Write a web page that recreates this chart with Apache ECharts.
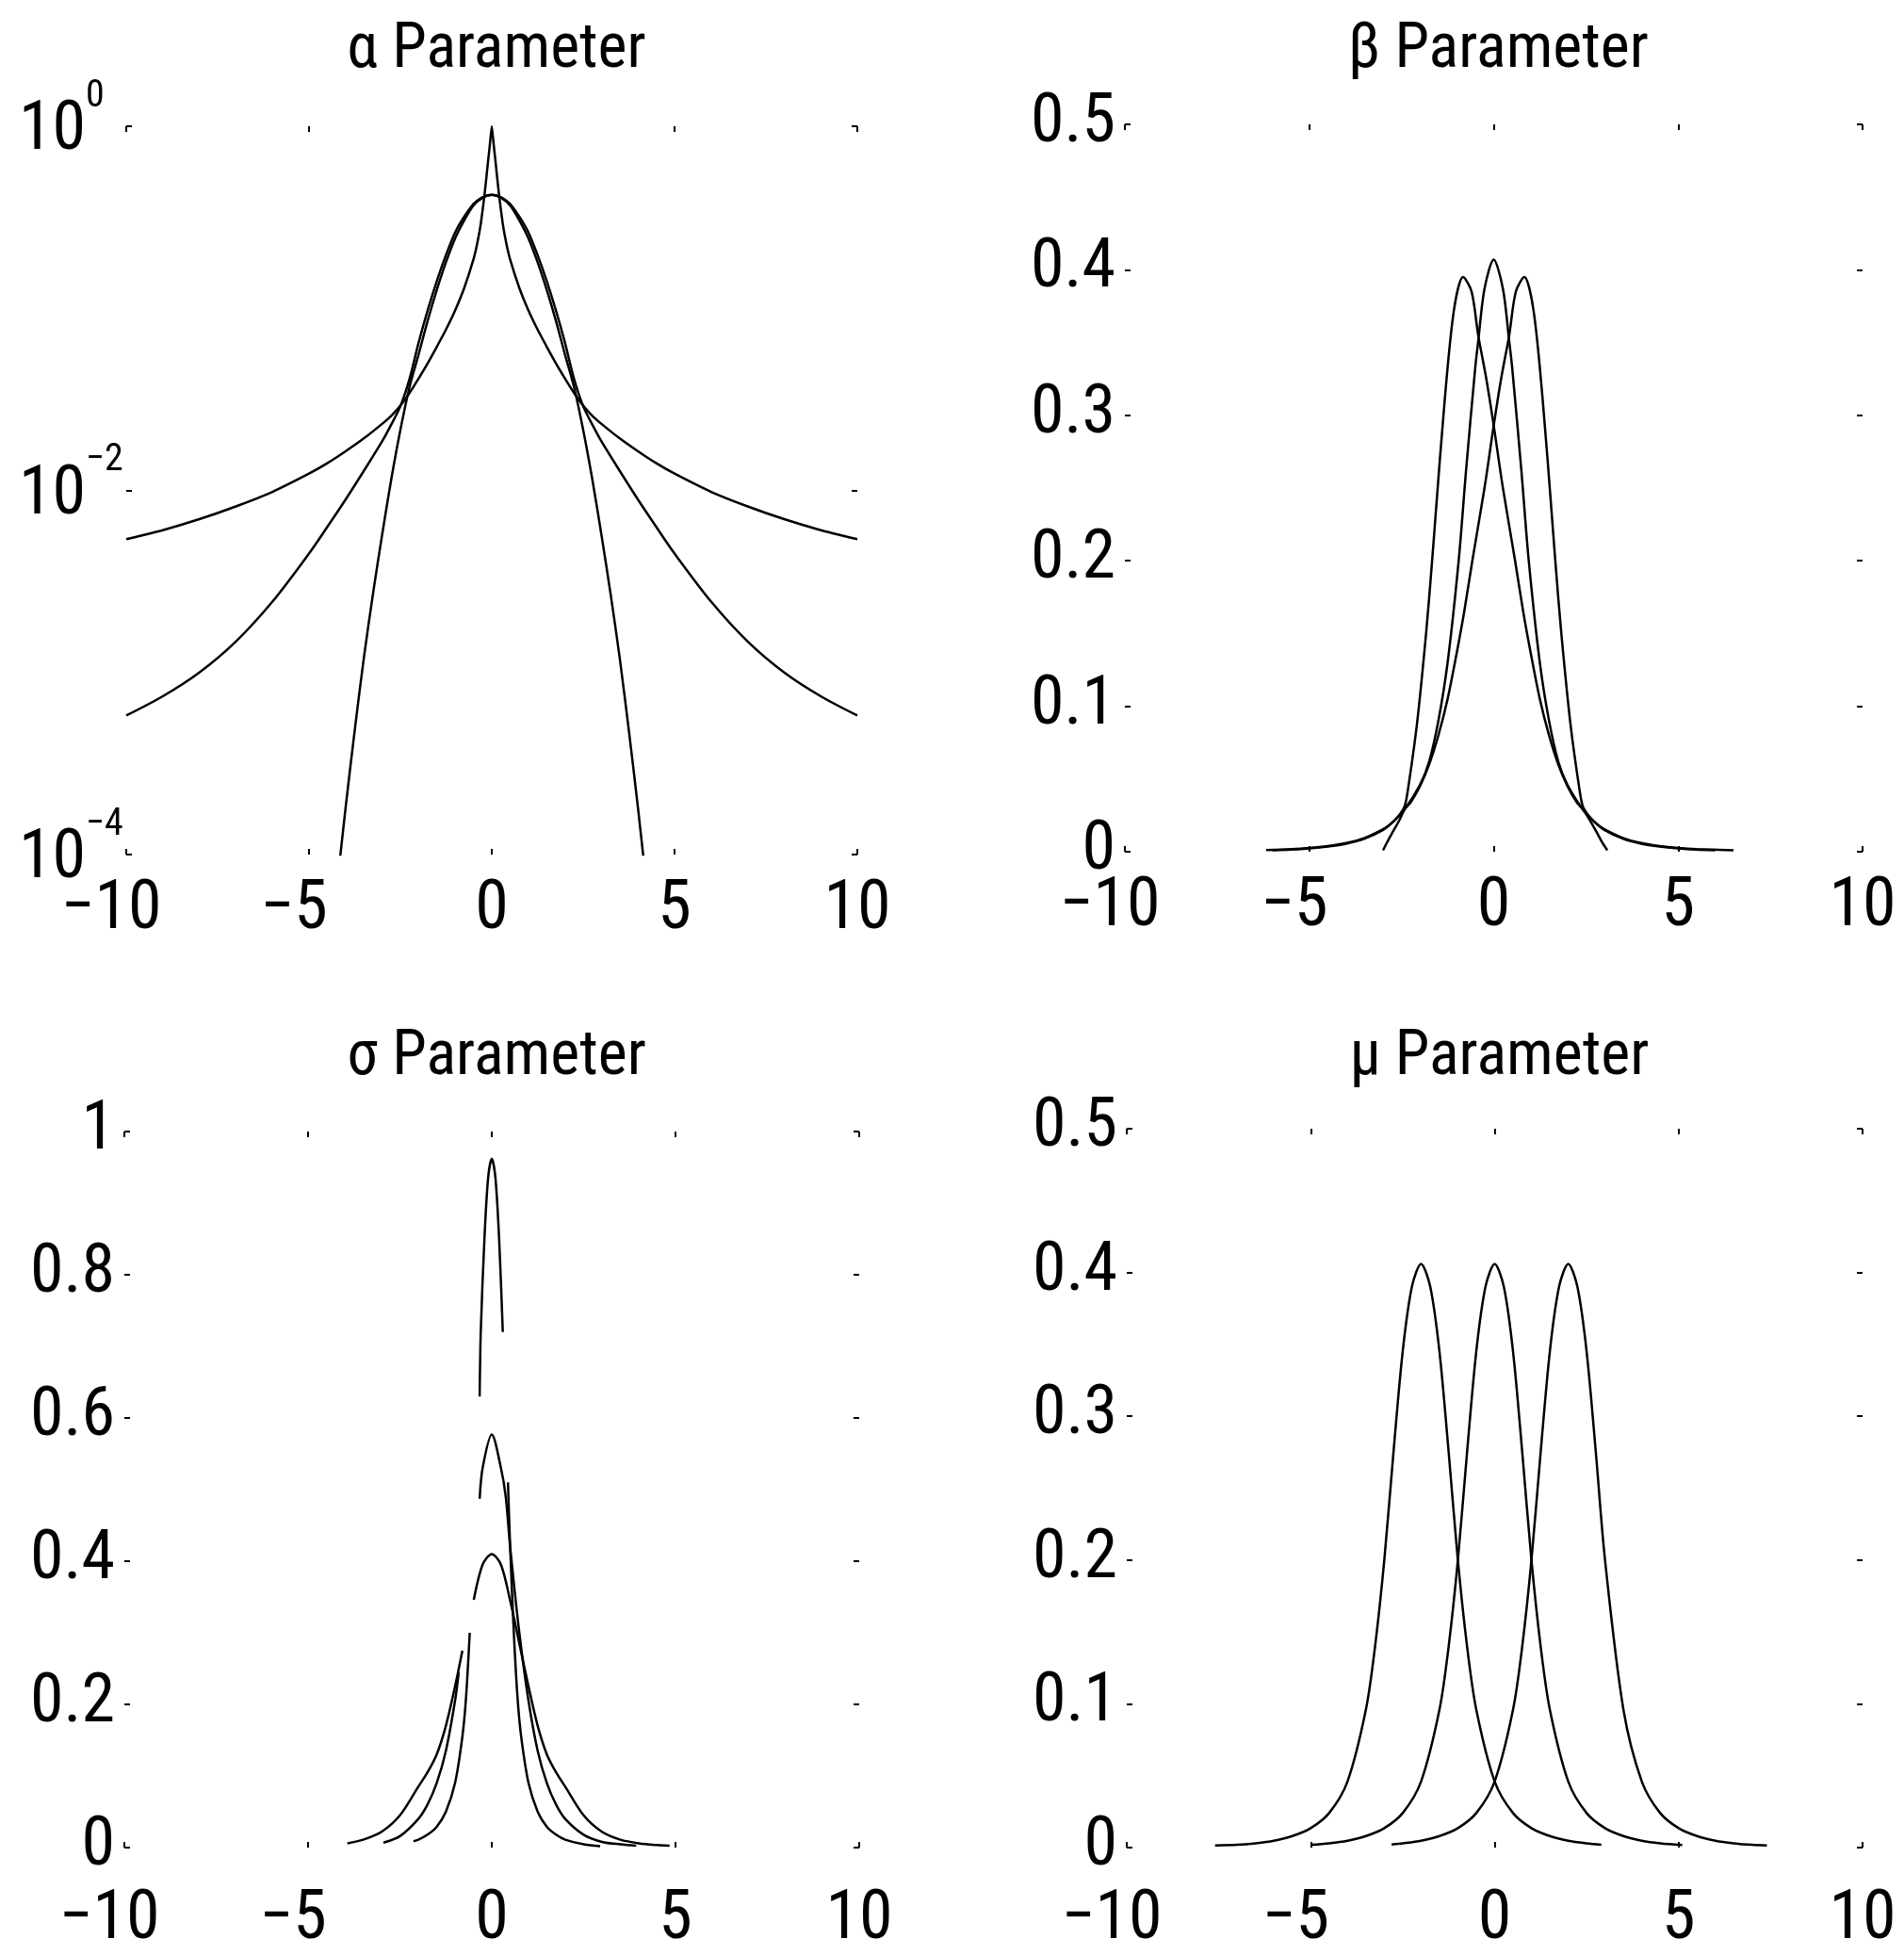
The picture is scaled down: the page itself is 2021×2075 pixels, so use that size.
<!DOCTYPE html>
<html><head><meta charset="utf-8">
<script src="https://cdn.jsdelivr.net/npm/echarts@6/dist/echarts.min.js"></script>
<style>html,body{margin:0;padding:0;background:#fff}#c{width:2021px;height:2075px}</style>
</head><body><div id="c"></div>
<script>
var FONT = "'Roboto Condensed','DejaVu Sans Condensed',sans-serif";
var WEIGHT = 'normal';
var titles = ['\u03b1 Parameter', '\u03b2 Parameter', '\u03c3 Parameter', '\u03bc Parameter'];

// ---- alpha panel (log y) ----
var alphaX = [-10,-9,-8,-7,-6,-5,-4.5,-4,-3.5,-3,-2.75,-2.5,-2.25,-2,-1.75,-1.5,-1.25,-1,-0.75,-0.5,-0.4,-0.3,-0.2,-0.1,-0.05,0,0.05,0.1,0.2,0.3,0.4,0.5,0.75,1,1.25,1.5,1.75,2,2.25,2.5,2.75,3,3.5,4,4.5,5,6,7,8,9,10];
var alphaHeavy = [0.0054,0.00605,0.00695,0.00817,0.00982,0.01236,0.0141,0.0164,0.0193,0.0232,0.0257,0.0292,0.0343,0.0412,0.050,0.0617,0.0767,0.0977,0.130,0.186,0.226,0.292,0.417,0.646,0.80,1.0,0.80,0.646,0.417,0.292,0.226,0.186,0.130,0.0977,0.0767,0.0617,0.050,0.0412,0.0343,0.0292,0.0257,0.0232,0.0193,0.0164,0.0141,0.01236,0.00982,0.00817,0.00695,0.00605,0.0054];
var alphaMid = [0.00058,0.00074,0.00100,0.00148,0.00245,0.0045,0.0063,0.0089,0.0128,0.0186,0.023,0.029,0.041,0.065,0.098,0.142,0.197,0.262,0.32,0.375,0.39,0.403,0.412,0.418,0.419,0.42,0.419,0.418,0.412,0.403,0.39,0.375,0.32,0.262,0.197,0.142,0.098,0.065,0.041,0.029,0.023,0.0186,0.0128,0.0089,0.0063,0.0045,0.00245,0.00148,0.00100,0.00074,0.00058];
var alphaLightX = [-4.5,-4.25,-4,-3.75,-3.5,-3.25,-3,-2.75,-2.5,-2.25,-2,-1.75,-1.5,-1.25,-1,-0.75,-0.5,-0.25,0,0.25,0.5,0.75,1,1.25,1.5,1.75,2,2.25,2.5,2.75,3,3.25,3.5,3.75,4,4.25,4.5];
var alphaLight = [0.00002,0.000062,0.00018,0.00048,0.0012,0.0027,0.0057,0.0115,0.0215,0.037,0.056,0.086,0.127,0.18,0.243,0.305,0.368,0.405,0.42,0.405,0.368,0.305,0.243,0.18,0.127,0.086,0.056,0.037,0.0215,0.0115,0.0057,0.0027,0.0012,0.00048,0.00018,0.000062,0.00002];

// ---- beta panel ----
var betaCX = [-6,-5.5,-5,-4.5,-4,-3.5,-3,-2.75,-2.42,-2,-1.75,-1.5,-1.25,-0.95,-0.75,-0.5,-0.42,-0.25,0,0.25,0.42,0.5,0.75,0.95,1.25,1.5,1.75,2,2.42,2.75,3,3.5,4,4.5,5,5.5,6];
var betaC = [0.001,0.0014,0.0022,0.0035,0.0055,0.009,0.015,0.02,0.029,0.046,0.062,0.09,0.13,0.2,0.262,0.333,0.351,0.387,0.407,0.387,0.351,0.333,0.262,0.2,0.13,0.09,0.062,0.046,0.029,0.02,0.015,0.009,0.0055,0.0035,0.0022,0.0014,0.001];
var betaLX = [-6.17,-5.5,-5,-4.5,-4,-3.5,-3,-2.8,-2.6,-2.42,-2.33,-2.08,-1.83,-1.67,-1.58,-1.33,-1.08,-0.83,-0.6,-0.42,-0.2,0,0.25,0.58,0.8,1,1.25,1.5,1.75,2,2.25,2.42,2.6,2.8,2.95,3.08];
var betaL = [0.0012,0.0018,0.0026,0.0039,0.006,0.0095,0.0155,0.019,0.024,0.031,0.042,0.088,0.151,0.2,0.23,0.31,0.372,0.395,0.385,0.355,0.325,0.293,0.25,0.2,0.165,0.137,0.105,0.08,0.06,0.045,0.034,0.029,0.022,0.013,0.006,0.001];
var betaRX = [-3.0,-2.9,-2.75,-2.55,-2.42,-2.25,-2,-1.75,-1.5,-1.25,-1,-0.8,-0.58,-0.25,0,0.2,0.42,0.6,0.83,1.08,1.33,1.58,1.67,1.83,2.08,2.33,2.42,2.6,2.8,3,3.5,4,4.5,5,5.5,6.5];
var betaR = [0.001,0.006,0.013,0.022,0.029,0.034,0.045,0.06,0.08,0.105,0.137,0.165,0.2,0.25,0.293,0.325,0.355,0.385,0.395,0.372,0.31,0.23,0.2,0.151,0.088,0.042,0.031,0.024,0.019,0.0155,0.0095,0.006,0.0039,0.0026,0.0018,0.001];

// ---- sigma panel (gaps where the printed curves break) ----
var sigNX = [-2.13,-2,-1.75,-1.5,-1.25,-1,-0.8,-0.7,-0.6,-0.45,-0.33,-0.3,-0.2,-0.1,0,0.1,0.2,0.3,0.37,0.44,0.5,0.6,0.7,0.8,1,1.25,1.5,1.75,2,2.5,2.95];
var sigN = [0.009,0.011,0.018,0.029,0.05,0.09,0.155,0.21,0.3,null,0.63,0.72,0.85,0.935,0.962,0.935,0.85,0.72,null,0.51,0.42,0.3,0.21,0.155,0.09,0.05,0.029,0.018,0.011,0.0045,0.002];
var sigMX = [-2.95,-2.5,-2,-1.75,-1.5,-1.25,-1,-0.9,-0.6,-0.33,-0.25,0,0.25,0.38,0.5,0.75,1,1.25,1.5,1.75,2,2.5,3,3.5,3.93];
var sigM = [0.007,0.016,0.04,0.06,0.09,0.135,0.205,0.245,null,0.487,0.53,0.577,0.53,0.49,0.42,0.30,0.205,0.135,0.09,0.06,0.04,0.018,0.008,0.0045,0.0025];
var sigWX = [-3.93,-3.5,-3,-2.5,-2,-1.75,-1.5,-1.25,-1,-0.8,-0.65,-0.49,-0.25,0,0.25,0.5,0.75,1,1.25,1.5,1.75,2,2.5,3,3.5,4,4.5,4.84];
var sigW = [0.006,0.011,0.022,0.045,0.085,0.105,0.13,0.17,0.225,0.275,null,0.346,0.395,0.41,0.395,0.345,0.285,0.225,0.17,0.13,0.105,0.085,0.045,0.022,0.011,0.006,0.0035,0.0025];

// ---- mu panel ----
var muLX = [-7.6,-7,-6.5,-6,-5.5,-5,-4.5,-4,-3.5,-3.25,-3,-2.75,-2.5,-2.25,-2,-1.75,-1.5,-1.25,-1,-0.75,-0.5,0,0.5,1,1.5,2,2.5,2.9];
var muL = [0.0015,0.0019,0.003,0.0048,0.008,0.0135,0.024,0.046,0.096,0.14,0.2,0.275,0.345,0.39,0.406,0.39,0.345,0.275,0.2,0.14,0.096,0.046,0.024,0.0135,0.008,0.0048,0.003,0.002];
var muCX = [-5,-4.5,-4,-3.5,-3,-2.5,-2,-1.5,-1.25,-1,-0.75,-0.5,-0.25,0,0.25,0.5,0.75,1,1.25,1.5,2,2.5,3,3.5,4,4.5,5.1];
var muC = [0.0019,0.003,0.0048,0.008,0.0135,0.024,0.046,0.096,0.14,0.2,0.275,0.345,0.39,0.406,0.39,0.345,0.275,0.2,0.14,0.096,0.046,0.024,0.0135,0.008,0.0048,0.003,0.0018];
var muRX = [-2.8,-2.5,-2,-1.5,-1,-0.5,0,0.5,0.75,1,1.25,1.5,1.75,2,2.25,2.5,2.75,3,3.5,4,4.5,5,5.5,6,6.5,7,7.4];
var muR = [0.0022,0.003,0.0048,0.008,0.0135,0.024,0.046,0.096,0.14,0.2,0.275,0.345,0.39,0.406,0.39,0.345,0.275,0.2,0.096,0.046,0.024,0.0135,0.008,0.0048,0.003,0.0019,0.0015];

function pairs(xs, ys) { return xs.map(function (x, i) { return [x, ys[i]]; }); }

var grids = [
  {left: 134, top: 134, width: 776, height: 773},
  {left: 1194, top: 132, width: 783, height: 772},
  {left: 132, top: 1201, width: 780, height: 766},
  {left: 1196, top: 1198, width: 781, height: 770}
];
var xLabelMargin = [24, 24, 42, 42];

function fmtX(v) { return v < 0 ? '{n|\u2212' + Math.abs(v) + '}' : '{p|' + v + '}'; }

var option = {
  backgroundColor: '#fff',
  animation: false,
  title: grids.map(function (g, i) {
    return {
      text: titles[i], left: g.left + g.width / 2, textAlign: 'center',
      top: i < 2 ? 16 : 1085,
      textStyle: {fontFamily: FONT, fontSize: 66, fontWeight: WEIGHT, color: '#000'}
    };
  }),
  grid: grids.map(function (g) { return {left: g.left, top: g.top, width: g.width, height: g.height, containLabel: false}; }),
  xAxis: [],
  yAxis: [],
  series: []
};

var tickStyle = {show: true, inside: true, length: 6, lineStyle: {color: '#000', width: 2}};
var noLine = {show: false, onZero: false};
for (var i = 0; i < 4; i++) {
  option.xAxis.push({
    type: 'value', gridIndex: i, min: -10, max: 10, interval: 5, position: 'bottom',
    axisLine: noLine, splitLine: {show: false}, axisTick: tickStyle,
    axisLabel: {margin: xLabelMargin[i], color: '#000', fontFamily: FONT, fontWeight: WEIGHT, fontSize: 72, formatter: fmtX,
      rich: {n: {fontFamily: FONT, fontWeight: WEIGHT, fontSize: 72, color: '#000', padding: [0, 32, 0, 0]},
             p: {fontFamily: FONT, fontWeight: WEIGHT, fontSize: 72, color: '#000'}}}
  });
  option.xAxis.push({
    type: 'value', gridIndex: i, min: -10, max: 10, interval: 5, position: 'top',
    axisLine: noLine, splitLine: {show: false}, axisTick: tickStyle, axisLabel: {show: false}
  });
}
option.yAxis.push({
  type: 'log', gridIndex: 0, logBase: 10, min: 1e-4, max: 1, interval: 2, position: 'left',
  axisLine: noLine, splitLine: {show: false}, axisTick: tickStyle, minorTick: {show: false},
  axisLabel: {
    margin: 114, align: 'left', color: '#000', fontFamily: FONT, fontWeight: WEIGHT,
    formatter: function (v) {
      var e = Math.round(Math.log(v) / Math.LN10);
      return '{b|10}{s|' + (e < 0 ? '\u2212' + Math.abs(e) : e) + '}';
    },
    rich: {
      b: {fontFamily: FONT, fontWeight: WEIGHT, fontSize: 72, color: '#000', padding: [12, 0, 0, 0]},
      s: {fontFamily: FONT, fontWeight: WEIGHT, fontSize: 40, color: '#000', padding: [0, 0, 63, 0]}
    }
  }
});
option.yAxis.push({
  type: 'log', gridIndex: 0, logBase: 10, min: 1e-4, max: 1, interval: 2, position: 'right',
  axisLine: noLine, splitLine: {show: false}, axisTick: tickStyle, axisLabel: {show: false}
});
var yMax = [null, 0.5, 1, 0.5], yInt = [null, 0.1, 0.2, 0.1];
for (var j = 1; j < 4; j++) {
  option.yAxis.push({
    type: 'value', gridIndex: j, min: 0, max: yMax[j], interval: yInt[j], position: 'left',
    axisLine: noLine, splitLine: {show: false}, axisTick: tickStyle,
    axisLabel: {margin: 10, color: '#000', fontFamily: FONT, fontWeight: WEIGHT, fontSize: 72}
  });
  option.yAxis.push({
    type: 'value', gridIndex: j, min: 0, max: yMax[j], interval: yInt[j], position: 'right',
    axisLine: noLine, splitLine: {show: false}, axisTick: tickStyle, axisLabel: {show: false}
  });
}

function line(panel, data, smooth) {
  option.series.push({
    type: 'line', xAxisIndex: panel * 2, yAxisIndex: panel * 2, data: data,
    showSymbol: false, smooth: smooth, clip: true, connectNulls: false,
    lineStyle: {color: '#000', width: 2.5}
  });
}
line(0, pairs(alphaX, alphaHeavy), 0.15);
line(0, pairs(alphaX, alphaMid), 0.3);
line(0, pairs(alphaLightX, alphaLight), 0.3);
line(1, pairs(betaLX, betaL), 0.3);
line(1, pairs(betaCX, betaC), 0.3);
line(1, pairs(betaRX, betaR), 0.3);
line(2, pairs(sigNX, sigN), 0.3);
line(2, pairs(sigMX, sigM), 0.3);
line(2, pairs(sigWX, sigW), 0.3);
line(3, pairs(muLX, muL), 0.3);
line(3, pairs(muCX, muC), 0.3);
line(3, pairs(muRX, muR), 0.3);

var chart = echarts.init(document.getElementById('c'), null, {renderer: 'canvas'});
chart.setOption(option);
</script></body></html>
